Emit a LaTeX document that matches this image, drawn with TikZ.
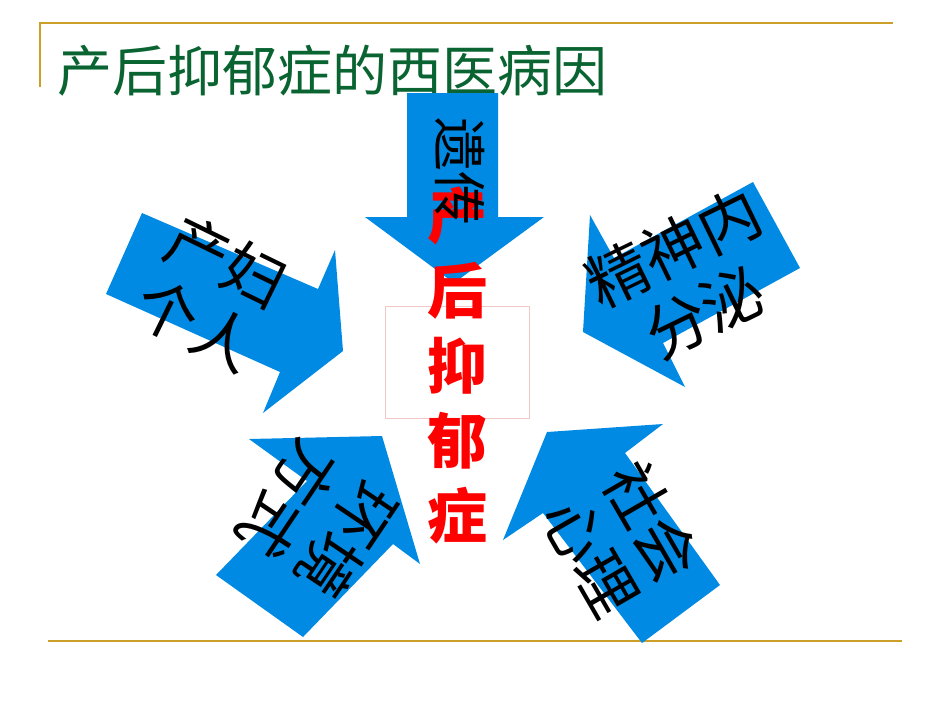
\documentclass[tikz,border=0pt]{standalone}
\usepackage{fontspec}
\newfontfamily\cjk{Noto Sans CJK SC}
\definecolor{gold}{RGB}{204,160,40}
\definecolor{arrowblue}{RGB}{0,138,228}
\definecolor{titlegreen}{RGB}{10,100,50}
\definecolor{boxpink}{RGB}{240,200,200}
\begin{document}
\begin{tikzpicture}[x=1pt,y=-1pt,
  arrowshape/.style={fill=arrowblue},
  arrowtext/.style={font={\cjk\fontsize{62}{71}\selectfont}, align=center, inner sep=0pt, text=black},
  rule/.style={draw=gold, line width=2.5pt}]
\useasboundingbox (0,0) rectangle (950,713);
% frame rules
\coordinate (tl) at (40,23);
\coordinate (tr) at (893,23);
\coordinate (lb) at (40,87);
\coordinate (bl) at (48,641);
\coordinate (br) at (902,641);
\draw[rule] (lb) -- (tl) -- (tr);
\draw[rule] (bl) -- (br);
% title
\node[anchor=west, inner sep=0pt, font={\cjk\fontsize{55}{60}\selectfont}, text=titlegreen] (title) at (57,71) {产后抑郁症的西医病因};
% arrows
\fill[arrowshape] (407,93) -- (498,93) -- (498,217) -- (544,217) -- (454,283) -- (365,217) -- (407,217) -- cycle;
\fill[arrowshape] (142,213) -- (318,289) -- (335,250) -- (343,351) -- (263,413) -- (280,372) -- (106,294) -- cycle;
\fill[arrowshape] (753,182) -- (800,268) -- (663,343) -- (685,387) -- (583,332) -- (590,215) -- (614,258) -- cycle;
\fill[arrowshape] (216,575) -- (307,481) -- (249,439) -- (382,436) -- (420,564) -- (393,544) -- (303,637) -- cycle;
\fill[arrowshape] (547,432) -- (663,424) -- (625,453) -- (720,585) -- (642,643) -- (543,513) -- (503,540) -- cycle;
% centre box and text
\node[draw=boxpink, line width=0.8pt, minimum width=144pt, minimum height=112pt, inner sep=0pt] (box) at (457,362) {};
\node[font={\cjk\bfseries\fontsize{60}{75}\selectfont}, text=red, align=center, inner sep=0pt] (centre) at (457,365) {产\\后\\抑\\郁\\症};
% arrow texts
\node[arrowtext, font={\cjk\fontsize{54}{60}\selectfont}, rotate=-90] (yc) at (460,171) {遗传};
\node[arrowtext, rotate=-26] (cf) at (211,293) {产妇\\个人};
\node[arrowtext, rotate=26] (js) at (689,280) {精神内\\分泌};
\node[arrowtext, rotate=-124] (hj) at (318,520) {环境\\方式};
\node[arrowtext, rotate=-60] (sh) at (622,539) {社会\\心理};
\end{tikzpicture}
\end{document}
